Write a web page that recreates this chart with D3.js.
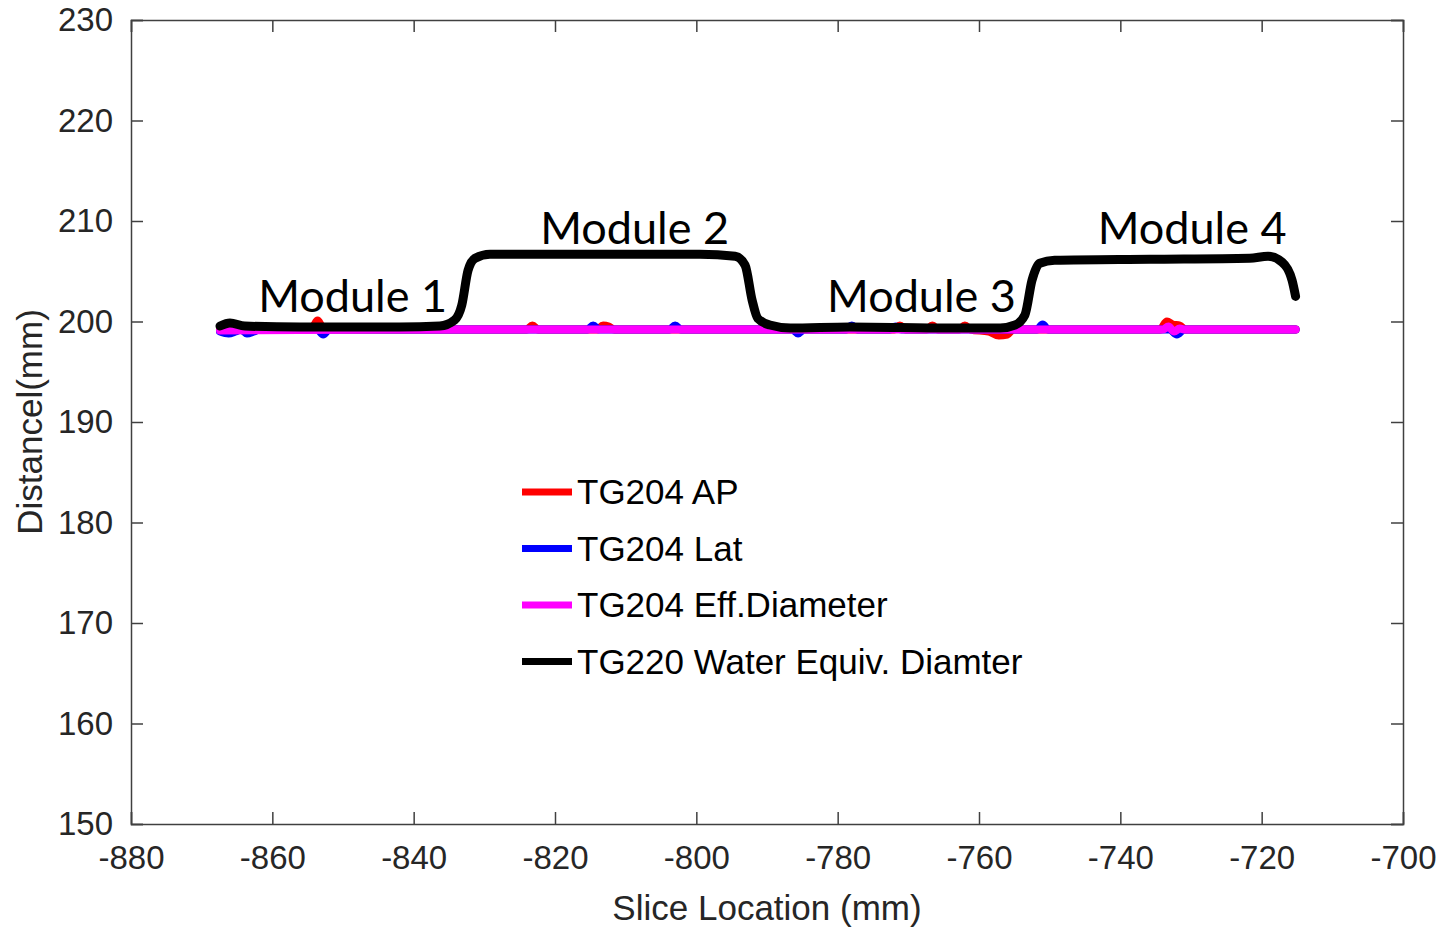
<!DOCTYPE html>
<html>
<head>
<meta charset="utf-8">
<script src="https://cdn.jsdelivr.net/npm/d3@7"></script>
<style>
  body { margin: 0; background: #fff; }
  svg text { font-family: "Liberation Sans", Arial, sans-serif; }
</style>
</head>
<body>
<div id="chart"></div>
<script>
// axis settings
const xTicks = [-880, -860, -840, -820, -800, -780, -760, -740, -720, -700];
const yTicks = [150, 160, 170, 180, 190, 200, 210, 220, 230];

// TG204 AP (red)
const apData = [
  [-867.4, 199.2], [-855, 199.2], [-854.2, 199.5], [-853.6, 200.1], [-853.0, 199.5], [-852.3, 199.2],
  [-824, 199.2], [-823.2, 199.6], [-822.4, 199.2],
  [-814, 199.2], [-813.2, 199.6], [-812.4, 199.5], [-811.6, 199.2],
  [-772, 199.2], [-771.2, 199.6], [-770.4, 199.2],
  [-767.4, 199.2], [-766.6, 199.6], [-765.8, 199.2],
  [-762.8, 199.2], [-762.0, 199.6], [-761.2, 199.2],
  [-758.6, 199.0], [-757.2, 198.6], [-756.0, 198.7], [-755.2, 199.2],
  [-734.4, 199.2], [-733.4, 200.0], [-732.6, 199.7], [-731.6, 199.6], [-730.8, 199.2],
  [-715.2, 199.2]
];

// TG204 Lat (blue)
const latData = [
  [-867.4, 199.0], [-866.2, 198.8], [-865.2, 199.0], [-864.4, 199.2], [-863.6, 198.8], [-862.6, 199.0], [-861.8, 199.2],
  [-853.6, 199.2], [-852.8, 198.7], [-852.0, 199.2],
  [-815.4, 199.2], [-814.6, 199.6], [-813.8, 199.2],
  [-803.8, 199.2], [-803.0, 199.6], [-802.2, 199.2],
  [-786.4, 199.2], [-785.6, 198.8], [-784.8, 199.2],
  [-778.8, 199.2], [-778.0, 199.6], [-777.2, 199.2],
  [-772.6, 199.2], [-771.8, 199.5], [-771.0, 199.2],
  [-751.8, 199.2], [-751.0, 199.7], [-750.2, 199.2],
  [-733.0, 199.2], [-732.0, 198.7], [-731.0, 199.2],
  [-715.2, 199.2]
];

// TG204 Eff.Diameter (magenta)
const effData = [
  [-867.4, 199.1], [-840, 199.2], [-800, 199.2], [-760, 199.2],
  [-734.0, 199.2], [-733.2, 199.5], [-732.4, 199.0], [-731.6, 199.3], [-730.8, 199.2],
  [-715.2, 199.2]
];

// TG220 Water Equiv. Diamter (black)
const wedData = [
  [-867.4, 199.55], [-866.0, 199.85], [-863.9, 199.55], [-856.1, 199.45], [-842.0, 199.45],
  [-836.3, 199.55], [-834.2, 200.15], [-833.2, 201.6], [-832.3, 205.1], [-831.3, 206.3],
  [-829.2, 206.7], [-813.6, 206.7], [-799.5, 206.7], [-794.5, 206.5], [-793.1, 205.6],
  [-792.1, 202.1], [-791.3, 200.3], [-789.6, 199.65], [-786.7, 199.35], [-778.3, 199.45],
  [-764.1, 199.35], [-757.0, 199.35], [-754.9, 199.65], [-753.5, 200.65], [-752.5, 204.1],
  [-751.4, 205.8], [-749.3, 206.1], [-735.8, 206.2], [-721.7, 206.3], [-719.1, 206.5],
  [-717.1, 205.9], [-715.7, 204.1], [-715.2, 202.5]
];

const seriesNames = ["TG204 AP", "TG204 Lat", "TG204 Eff.Diameter", "TG220 Water Equiv. Diamter"];
const seriesColors = ["#ff0000", "#0000ff", "#ff00ff", "#000000"];
const seriesWidths = [8, 8, 8, 9];
const seriesData = [apData, latData, effData, wedData];

const moduleLabels = ["Module 1", "Module 2", "Module 3", "Module 4"];
const modulePos = [[-862.0, 200.95], [-822.1, 207.7], [-781.5, 200.95], [-743.2, 207.7]];

const width = 1447, height = 930;
const margin = {left: 131, right: 44, top: 20, bottom: 106};

const svg = d3.select("#chart").append("svg")
    .attr("width", width)
    .attr("height", height);

const x = d3.scaleLinear().domain([-880, -700]).range([margin.left, width - margin.right]);
const y = d3.scaleLinear().domain([150, 230]).range([height - margin.bottom, margin.top]);

const axisColor = "#404040";
const tickLen = 12;

// data lines (clipped to the plot box)
svg.append("clipPath").attr("id", "clip")
    .append("rect")
    .attr("x", x.range()[0]).attr("y", y.range()[1])
    .attr("width", x.range()[1] - x.range()[0])
    .attr("height", y.range()[0] - y.range()[1]);

const line = d3.line()
    .x(d => x(d[0]))
    .y(d => y(d[1]))
    .curve(d3.curveMonotoneX);

svg.append("g").attr("clip-path", "url(#clip)")
  .selectAll("path")
  .data(seriesData)
  .enter()
  .append("path")
    .attr("d", line)
    .attr("fill", "none")
    .attr("stroke", (d, i) => seriesColors[i])
    .attr("stroke-width", (d, i) => seriesWidths[i])
    .attr("stroke-linejoin", "round")
    .attr("stroke-linecap", "round");

// axes, MATLAB style box with ticks inside
const fmt = d => String(d);   // plain hyphen minus like MATLAB
const bottomAxis = d3.axisBottom(x).tickValues(xTicks).tickSize(-tickLen).tickPadding(22).tickFormat(fmt);
const leftAxis = d3.axisLeft(y).tickValues(yTicks).tickSize(-tickLen).tickPadding(18).tickFormat(fmt);
const topAxis = d3.axisTop(x).tickValues(xTicks).tickSize(-tickLen).tickFormat("");
const rightAxis = d3.axisRight(y).tickValues(yTicks).tickSize(-tickLen).tickFormat("");

const gx = svg.append("g").attr("transform", `translate(0,${y.range()[0]})`).call(bottomAxis);
const gy = svg.append("g").attr("transform", `translate(${x.range()[0]},0)`).call(leftAxis);
const gt = svg.append("g").attr("transform", `translate(0,${y.range()[1]})`).call(topAxis);
const gr = svg.append("g").attr("transform", `translate(${x.range()[1]},0)`).call(rightAxis);

[gx, gy, gt, gr].forEach(g => {
    g.select(".domain").attr("stroke", axisColor).attr("stroke-width", 1.5);
    g.selectAll(".tick line").attr("stroke", axisColor).attr("stroke-width", 1.5);
    g.selectAll(".tick text")
        .attr("fill", "#262626")
        .style("font-size", "33px")
        .style("font-family", "'Liberation Sans', Arial, sans-serif");
});

// axis titles
svg.append("text")
    .attr("x", (x.range()[0] + x.range()[1]) / 2)
    .attr("y", 920)
    .attr("text-anchor", "middle")
    .attr("fill", "#262626")
    .style("font-size", "35px")
    .text("Slice Location (mm)");

svg.append("text")
    .attr("transform", `translate(42,${(y.range()[0] + y.range()[1]) / 2}) rotate(-90)`)
    .attr("text-anchor", "middle")
    .attr("fill", "#262626")
    .style("font-size", "35px")
    .text("Distancel(mm)");

// module annotations
svg.selectAll(".module")
  .data(moduleLabels)
  .enter()
  .append("text")
    .attr("class", "module")
    .attr("x", (d, i) => x(modulePos[i][0]))
    .attr("y", (d, i) => y(modulePos[i][1]))
    .attr("fill", "#000")
    .style("font-family", "Lato, 'Open Sans', sans-serif")
    .style("font-size", "45px")
    .text(d => d);

// legend (no box)
const legend = svg.append("g").attr("transform", "translate(522,492)");
const rowH = 56.5;
seriesNames.forEach((name, i) => {
    legend.append("line")
        .attr("x1", 0).attr("x2", 50)
        .attr("y1", i * rowH).attr("y2", i * rowH)
        .attr("stroke", seriesColors[i])
        .attr("stroke-width", 7);
    legend.append("text")
        .attr("x", 55)
        .attr("y", i * rowH + 12)
        .attr("fill", "#000")
        .style("font-size", "35px")
        .text(name);
});
</script>
</body>
</html>
